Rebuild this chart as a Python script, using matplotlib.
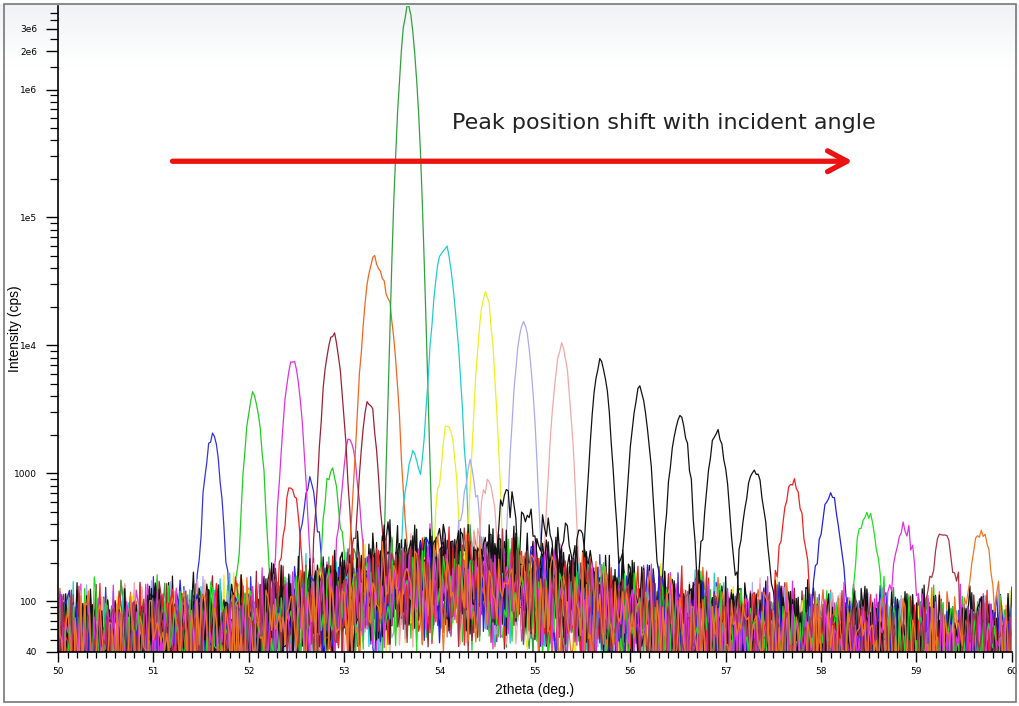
import numpy as np
import matplotlib.pyplot as plt
from matplotlib.ticker import FixedLocator, NullFormatter
from matplotlib.patches import Rectangle

# main reflections (2theta in deg., intensity in cps)
peak_pos = [51.62, 52.05, 52.46, 52.88, 53.31, 53.67, 54.05, 54.48, 54.88, 55.28,
            55.69, 56.10, 56.52, 56.91, 57.30, 57.70, 58.10, 58.48, 58.87, 59.28, 59.68]
peak_height = [1900, 4100, 7700, 12200, 47000, 4.4e6, 59000, 25000, 15500, 9800,
               7300, 4400, 2750, 2000, 1040, 800, 620, 450, 330, 300, 285]
peak_width = [0.063, 0.062, 0.066, 0.068, 0.072, 0.056, 0.078, 0.058, 0.062, 0.062,
              0.064, 0.068, 0.072, 0.076, 0.080, 0.082, 0.082, 0.082, 0.084, 0.084, 0.085]
# weaker side reflections (0 = none)
side_pos = [52.64, 52.87, 53.06, 53.26, 53.46, 0, 53.72, 54.09, 54.32, 54.51,
            54.72, 54.92, 55.12, 55.32, 55.50, 52.45, 0, 0, 0, 0, 0]
side_height = [780, 1000, 1800, 3500, 18000, 0, 1300, 2200, 1000, 730,
               410, 330, 270, 230, 200, 700, 0, 0, 0, 0, 0]
colors = ['#3333dd', '#22cc22', '#dd33dd', '#992233', '#ee6622', '#33a040', '#22cccc',
          '#eeee22', '#aaaaee', '#f2a8a8', '#111111', '#111111', '#111111', '#111111',
          '#111111', '#ee2222', '#2222dd', '#22dd22', '#dd33dd', '#aa3344', '#ee7722']

# background level along 2theta (black scans have the stronger diffuse hump)
bg_x = [50, 51, 52, 52.8, 53.5, 54.0, 54.5, 55.0, 55.5, 56, 57, 58, 59, 60]
bg_level = [55, 58, 66, 92, 130, 150, 140, 118, 98, 82, 64, 54, 50, 48]
bg_level_black = [52, 56, 68, 105, 170, 200, 190, 160, 125, 95, 66, 54, 50, 48]
# counting noise factors (typed, reused for every scan)
noise_a = [1.12, 0.64, 1.48, 0.91, 0.42, 1.73, 1.05, 0.58, 1.31, 0.77, 1.92, 0.49, 1.18,
           0.86, 0.37, 1.56, 1.01, 0.69, 1.39, 0.53, 1.84, 0.95, 0.46, 1.27, 0.73, 1.62,
           0.88, 0.40, 1.21, 0.61, 1.44, 0.99, 0.51, 1.68, 0.82, 0.44, 1.35, 0.71, 1.09,
           0.56, 1.79, 0.93, 0.39, 1.25, 0.66, 1.52, 0.84, 0.48, 1.15, 0.75, 1.97, 0.60,
           1.03, 0.43, 1.41, 0.80, 1.60, 0.54, 1.14, 0.68, 1.33]
noise_b = [1.05, 0.82, 1.21, 0.93, 1.34, 0.76, 1.10, 0.88, 1.27, 0.71, 1.16, 0.97, 0.79,
           1.40, 0.85, 1.02, 0.74, 1.30, 0.91, 1.13, 0.80, 1.24, 0.95, 0.72, 1.19, 0.87,
           1.36, 0.78, 1.07, 0.90, 1.22, 0.83, 1.00, 1.31, 0.77, 1.14, 0.94]

y_major = [40, 100, 1000, 1e4, 1e5, 1e6, 2e6, 3e6]
y_labels = ['40', '100', '1000', '1e4', '1e5', '1e6', '2e6', '3e6']

fig = plt.figure(figsize=(10.19, 7.06), dpi=100)

# light gray band at the top of the window
bga = fig.add_axes([0, 0, 1, 1], zorder=-5)
grad = np.linspace(1, 0, 100).reshape(-1, 1)
bga.imshow(np.dstack([1 - 0.06 * grad, 1 - 0.05 * grad, 1 - 0.04 * grad]),
           extent=[0, 1, 0.905, 0.993], aspect='auto')
bga.set_xlim(0, 1)
bga.set_ylim(0, 1)
bga.axis('off')

ax = fig.add_axes([0.0569, 0.0765, 0.9361, 0.915])
ax.patch.set_alpha(0)

x = np.arange(50, 60.001, 0.02)
n = len(x)
na = np.array(noise_a)
nb = np.array(noise_b)
bg = np.interp(x, bg_x, bg_level)
bg_black = np.interp(x, bg_x, bg_level_black)
j = np.arange(n)

for i in range(len(peak_pos)):
    k = (i % 6) + 1
    fa = na[(j * k + 7 * i) % len(na)]
    fb = nb[(j * (i % 5 + 2) + 5 * i) % len(nb)]
    fc = na[(j * (k + 2) + 3 * i) % len(na)]
    base = bg_black if colors[i] == '#111111' else bg
    y = base * fa * fb
    p = peak_height[i] * np.exp(-0.5 * ((x - peak_pos[i]) / peak_width[i]) ** 2)
    if side_height[i] > 0:
        p += side_height[i] * np.exp(-0.5 * ((x - side_pos[i]) / 0.06) ** 2)
    y += p * (1 + 0.1 * (fc - 1))
    ax.plot(x, y, color=colors[i], lw=0.9)

ax.set_yscale('log')
ax.set_xlim(50, 60)
ax.set_ylim(40, 4.5e6)

minor = [m * 10.0 ** d for d in range(1, 7) for m in range(2, 10)] + [1.5e6, 2.5e6, 3.5e6]
ax.yaxis.set_major_locator(FixedLocator(y_major))
ax.yaxis.set_minor_locator(FixedLocator([v for v in minor if 40 < v < 4.5e6]))
ax.set_yticklabels(y_labels)
ax.yaxis.set_minor_formatter(NullFormatter())
ax.set_xticks(np.arange(50, 61, 1))
ax.set_xticklabels([str(v) for v in range(50, 61)])
ax.set_xticks(np.arange(50, 60.01, 0.1), minor=True)

ax.tick_params(axis='both', which='major', labelsize=6.5, length=7, width=1, direction='out')
ax.tick_params(axis='both', which='minor', length=4, width=0.9, direction='out')
ax.tick_params(axis='y', which='major', length=9, pad=6)
ax.tick_params(axis='y', which='minor', length=6)
ax.tick_params(axis='x', which='major', pad=4)

for s in ['top', 'right']:
    ax.spines[s].set_visible(False)
ax.spines['left'].set_linewidth(1.2)
ax.spines['bottom'].set_linewidth(1.2)

ax.set_ylabel('Intensity (cps)', fontsize=10, family='Liberation Sans')
ax.yaxis.set_label_coords(-0.038, 0.5)
ax.set_xlabel('2theta (deg.)', fontsize=10, family='Liberation Sans', labelpad=5)

ax.annotate('', xy=(58.33, 2.75e5), xytext=(51.2, 2.75e5),
            arrowprops=dict(arrowstyle='->,head_length=1.4,head_width=0.75',
                            color='#ee1111', lw=3.8, shrinkA=0, shrinkB=0,
                            mutation_scale=10))
ax.text(0.413, 0.819, 'Peak position shift with incident angle', transform=ax.transAxes,
        fontsize=16, color='#222222', va='center', ha='left')

# window frame
fig.patches.append(Rectangle((4 / 1019, 4 / 706), 1012 / 1019, 698 / 706,
                             transform=fig.transFigure, fill=False,
                             edgecolor='#777777', lw=1.2))

fig.savefig('out.png', dpi=100)
